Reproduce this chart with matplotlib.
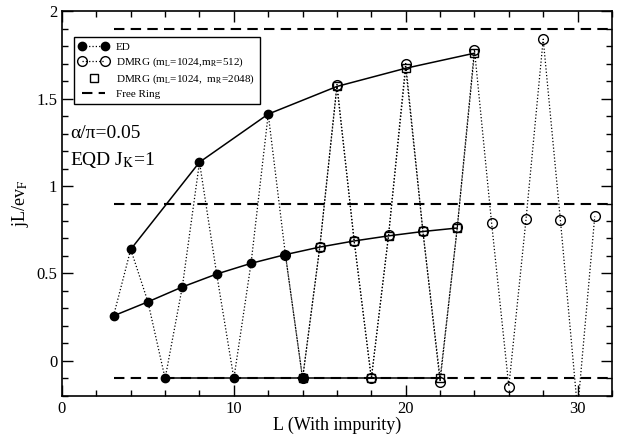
import numpy as np
import matplotlib
matplotlib.use('Agg')
import matplotlib.pyplot as plt
from matplotlib.ticker import MultipleLocator
from matplotlib.legend_handler import HandlerLine2D

plt.rcParams['font.family'] = ['Liberation Serif', 'DejaVu Serif']
plt.rcParams['mathtext.fontset'] = 'stix'

# ED (exact diagonalisation), L = 3..14
ed_L = [3, 4, 5, 6, 7, 8, 9, 10, 11, 12, 13, 14]
ed_j = [0.258, 0.638, 0.338, -0.1, 0.423, 1.136, 0.497, -0.1, 0.558, 1.411, 0.608, -0.1]

# DMRG m_L=1024, m_R=512
d512_L = [13, 14, 15, 16, 17, 18, 19, 20, 21, 22, 23, 24, 25, 26, 27, 28, 29, 30, 31]
d512_j = [0.608, -0.1, 0.652, 1.58, 0.688, -0.1, 0.718, 1.70, 0.742, -0.118,
          0.766, 1.78, 0.786, -0.146, 0.809, 1.839, 0.806, -0.28, 0.826]

# DMRG m_L=1024, m_R=2048
d2048_L = [14, 15, 16, 17, 18, 19, 20, 21, 22, 23, 24]
d2048_j = [-0.1, 0.651, 1.569, 0.686, -0.1, 0.715, 1.673, 0.74, -0.1, 0.76, 1.759]

# solid guide lines through each branch (L mod 4)
top_L = [4, 8, 12, 16, 20, 24]
top_j = [0.638, 1.136, 1.411, 1.569, 1.673, 1.759]
mid_L = [3, 5, 7, 9, 11, 13, 15, 17, 19, 21, 23]
mid_j = [0.258, 0.338, 0.423, 0.497, 0.558, 0.608, 0.651, 0.686, 0.715, 0.74, 0.76]
bot_L = [6, 10, 14, 18, 22]
bot_j = [-0.1, -0.1, -0.1, -0.1, -0.1]

# free ring values
free_L = [3, 32]
free_levels = [1.9, 0.9, -0.1]

fig = plt.figure(figsize=(6.2, 4.34), dpi=100)
ax = fig.add_axes([0.1, 0.0876, 0.887, 0.887])

dash = (0, (5, 3))
for lvl in free_levels:
    ax.plot(free_L, [lvl, lvl], color='black', lw=1.5, ls=dash)

ax.plot(top_L, top_j, color='black', lw=1.1)
ax.plot(mid_L, mid_j, color='black', lw=1.1)
ax.plot(bot_L, bot_j, color='black', lw=1.1)

ax.plot(d2048_L, d2048_j, color='black', lw=0.9, ls=':', marker='s', ms=6,
        mfc='none', mec='black', mew=1.0)
ax.plot(d512_L, d512_j, color='black', lw=0.9, ls=':', marker='o', ms=7,
        mfc='none', mec='black', mew=1.0)
ax.plot(ed_L, ed_j, color='black', lw=0.9, ls=':', marker='o', ms=6,
        mfc='black', mec='black')

h_ed, = ax.plot([], [], color='black', lw=0.9, ls=':', marker='o', ms=6, mfc='black')
h_512, = ax.plot([], [], color='black', lw=0.9, ls=':', marker='o', ms=7, mfc='none')
h_2048, = ax.plot([], [], color='black', lw=0, marker='s', ms=6, mfc='none')
h_free, = ax.plot([], [], color='black', lw=1.5, ls=dash)

leg = ax.legend([h_ed, h_512, h_2048, h_free],
                ['ED', r'DMRG (m$_\mathrm{L}$=1024,m$_\mathrm{R}$=512)',
                 r'DMRG (m$_\mathrm{L}$=1024,  m$_\mathrm{R}$=2048)', 'Free Ring'],
                loc='upper left', bbox_to_anchor=(0.022, 0.932), fontsize=8,
                fancybox=False, edgecolor='black', framealpha=1, numpoints=2,
                handler_map={h_2048: HandlerLine2D(numpoints=1)},
                handlelength=2.6, borderpad=0.45, labelspacing=0.3,
                borderaxespad=0, handletextpad=0.7)
leg.get_frame().set_linewidth(1.0)

ax.text(0.015, 0.683, 'α/π=0.05', transform=ax.transAxes, fontsize=14,
        va='center', ha='left')
ax.text(0.015, 0.613, r'EQD J$_\mathrm{K}$=1', transform=ax.transAxes, fontsize=14,
        va='center', ha='left')

ax.set_xlim(0, 32)
ax.set_ylim(-0.2, 2)
ax.xaxis.set_major_locator(MultipleLocator(10))
ax.xaxis.set_minor_locator(MultipleLocator(2))
ax.yaxis.set_major_locator(MultipleLocator(0.5))
ax.yaxis.set_minor_locator(MultipleLocator(0.1))
ax.yaxis.set_major_formatter(plt.FuncFormatter(lambda v, p: f'{v:g}'))
ax.tick_params(which='both', direction='in', top=True, right=True, labelsize=12)
ax.tick_params(which='major', length=8, width=1)
ax.tick_params(which='minor', length=4, width=1)
for s in ax.spines.values():
    s.set_linewidth(1.2)

ax.set_xlabel('L (With impurity)', fontsize=13, labelpad=0)
ax.set_ylabel(r'jL/ev$_\mathrm{F}$', fontsize=13, labelpad=4)

fig.savefig('out.png', dpi=100)
